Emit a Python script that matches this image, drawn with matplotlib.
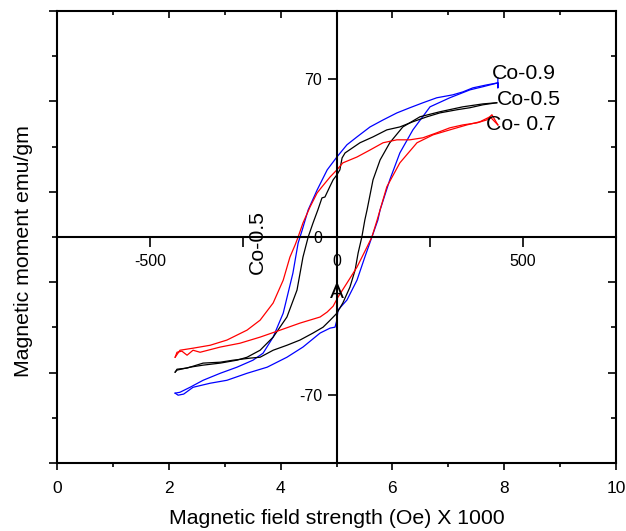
import matplotlib
matplotlib.use('Agg')
import matplotlib.pyplot as plt
from matplotlib.ticker import MultipleLocator, FixedLocator, NullFormatter

plt.rcParams['font.family'] = ['Liberation Sans', 'DejaVu Sans']
plt.rcParams['axes.unicode_minus'] = False

# Hysteresis loops: field (Oe) and moment (emu/gm)
# upper branch = field sweep +max -> -max, lower branch = -max -> +max
co09_up_h = [433, 433, 433, 403, 366, 339, 312, 269, 232, 197, 162, 125, 90, 55, 28, 1, -25, -52, -76,
             -92, -103, -117, -143, -170, -197, -224, -267, -312, -358, -393, -420, -433]
co09_up_m = [70.5, 66.0, 68.2, 67.3, 66.0, 64.2, 62.9, 61.6, 59.4, 57.2, 54.9, 51.8, 48.7, 44.3, 40.8, 35.4,
             29.7, 20.8, 12.0, 3.1, -2.7, -16.0, -33.7, -44.3, -51.4, -54.5, -57.6, -60.3, -63.4, -66.5, -68.7, -69.1]
co09_dn_h = [-433, -425, -410, -385, -339, -294, -240, -186, -133, -90, -44, -17, -4, 1, 4, 28, 55, 76, 95,
             111, 117, 143, 170, 205, 251, 304, 358, 393, 433]
co09_dn_m = [-69.1, -70.0, -69.5, -66.5, -64.7, -63.4, -60.3, -57.6, -53.2, -48.7, -42.5, -40.3, -39.9, -36.8,
             -32.3, -27.9, -19.1, -8.9, 0.0, 7.5, 12.0, 25.3, 37.2, 47.4, 57.6, 61.6, 65.1, 66.5, 68.2]

co05_up_h = [430, 393, 358, 323, 277, 243, 205, 170, 135, 98, 63, 23, 15, 9, 1, -9, -17, -31, -39, -50,
             -63, -76, -90, -106, -133, -170, -205, -240, -267, -312, -358, -393, -428, -433]
co05_up_m = [59.4, 58.5, 57.2, 56.3, 54.9, 53.2, 51.0, 48.7, 47.4, 44.3, 41.7, 37.2, 35.0, 29.7, 27.5, 25.3,
             22.6, 17.7, 17.3, 12.0, 6.2, 0.0, -8.9, -23.5, -35.4, -44.3, -50.1, -53.2, -54.5, -55.8, -56.7,
             -57.6, -58.9, -59.8]
co05_dn_h = [-433, -428, -401, -358, -312, -277, -232, -205, -170, -133, -98, -63, -36, -17, -4, 1, 17, 36,
             50, 58, 68, 76, 82, 98, 117, 143, 178, 224, 277, 339, 393, 430]
co05_dn_m = [-59.8, -58.5, -58.0, -55.8, -55.4, -54.5, -53.6, -53.2, -50.1, -47.9, -45.6, -42.5, -39.9,
             -36.8, -34.6, -33.7, -29.2, -22.2, -14.6, -7.1, 0.0, 7.5, 12.0, 25.3, 34.1, 41.7, 48.7, 53.2,
             55.4, 57.6, 58.9, 59.4]

co07_up_h = [433, 417, 403, 377, 339, 304, 269, 232, 197, 162, 125, 90, 55, 17, 1, -17, -39, -52, -71,
             -90, -103, -111, -125, -143, -170, -205, -240, -294, -339, -385, -420, -433]
co07_up_m = [49.6, 54.1, 51.8, 50.5, 49.6, 48.3, 46.1, 43.9, 43.0, 43.0, 41.7, 38.5, 35.4, 32.8, 29.7, 26.6,
             22.2, 19.5, 13.3, 6.2, 0.0, -3.5, -8.9, -19.1, -29.2, -36.8, -41.2, -45.6, -47.9, -49.2, -50.1,
             -53.2]
co07_dn_h = [-433, -428, -415, -401, -385, -366, -312, -259, -205, -151, -98, -44, -25, -9, 4, 28, 55, 82,
             95, 109, 135, 170, 216, 259, 304, 350, 385, 412, 433]
co07_dn_m = [-53.2, -51.0, -50.5, -52.3, -50.1, -51.0, -48.7, -47.0, -44.3, -41.2, -38.1, -35.4, -33.2,
             -30.6, -26.6, -20.4, -13.3, -4.4, 0.0, 7.5, 22.2, 32.8, 41.7, 45.2, 47.4, 49.6, 51.0, 53.2, 49.6]

bottom_ticks = [0, 2, 4, 6, 8, 10]
inner_x_ticks = [-500, 0, 500]
inner_y_ticks = [-70, 0, 70]

fig = plt.figure(figsize=(6.26, 5.31), dpi=100)
rect = [57 / 626, 1 - 463 / 531, 559 / 626, 452 / 531]

# outer frame: 0..10 field scale
ax = fig.add_axes(rect)
ax.set_xlim(0, 10)
ax.set_ylim(0, 10)
ax.set_xticks(bottom_ticks)
ax.xaxis.set_minor_locator(MultipleLocator(1))
ax.yaxis.set_major_locator(MultipleLocator(2))
ax.yaxis.set_minor_locator(MultipleLocator(1))
ax.yaxis.set_major_formatter(NullFormatter())
ax.tick_params(axis='x', which='major', direction='out', length=5, width=1.2, labelsize=12.5, pad=8)
ax.tick_params(axis='x', which='minor', direction='out', length=3, width=1.2)
ax.tick_params(axis='y', which='major', direction='out', length=6, width=1.2)
ax.tick_params(axis='y', which='minor', direction='out', length=3.5, width=1.2)
ax.tick_params(which='both', top=True, right=True)
for s in ax.spines.values():
    s.set_linewidth(1.5)
ax.set_xlabel('Magnetic field strength (Oe) X 1000', fontsize=15.3, labelpad=9.5)
ax.set_ylabel('Magnetic moment emu/gm', fontsize=15.3)
ax.yaxis.set_label_coords(-0.043, 0.469)
# top and right ticks point inward
for t in ax.xaxis.get_major_ticks() + ax.xaxis.get_minor_ticks():
    t.tick2line.set_marker(3)
for t in ax.yaxis.get_major_ticks() + ax.yaxis.get_minor_ticks():
    t.tick2line.set_marker(0)

# inner axes crossing at zero
ix = fig.add_axes(rect, facecolor='none')
ix.set_xlim(-750, 750)
ix.set_ylim(-100, 100)
ix.spines['left'].set_position(('data', 0))
ix.spines['bottom'].set_position(('data', 0))
ix.spines['top'].set_visible(False)
ix.spines['right'].set_visible(False)
ix.spines['left'].set_linewidth(1.5)
ix.spines['bottom'].set_linewidth(1.5)
ix.set_xticks(inner_x_ticks)
ix.xaxis.set_minor_locator(FixedLocator([-250, 250]))
ix.set_yticks(inner_y_ticks)
ix.tick_params(axis='x', which='both', direction='out', length=7, width=1.2, labelsize=11.5, pad=5)
ix.tick_params(axis='y', which='both', direction='out', length=6.5, width=1.2, labelsize=11.5, pad=4)

ix.plot(co09_up_h, co09_up_m, color='#0000ff', lw=0.9)
ix.plot(co09_dn_h, co09_dn_m, color='#0000ff', lw=0.9)
ix.plot(co05_up_h, co05_up_m, color='black', lw=0.9)
ix.plot(co05_dn_h, co05_dn_m, color='black', lw=0.9)
ix.plot(co07_up_h, co07_up_m, color='#ff0000', lw=0.9)
ix.plot(co07_dn_h, co07_dn_m, color='#ff0000', lw=0.9)

ix.text(416, 72.5, 'Co-0.9', fontsize=15.3, va='center', ha='left')
ix.text(430, 60.7, 'Co-0.5', fontsize=15.3, va='center', ha='left')
ix.text(402, 49.6, 'Co- 0.7', fontsize=15.3, va='center', ha='left')
ix.text(-212, -2, 'Co-0.5', fontsize=15.3, va='center', ha='center', rotation=90)
ix.text(0, -24.5, 'A', fontsize=15, va='center', ha='center')

fig.savefig('out.png', dpi=100)
